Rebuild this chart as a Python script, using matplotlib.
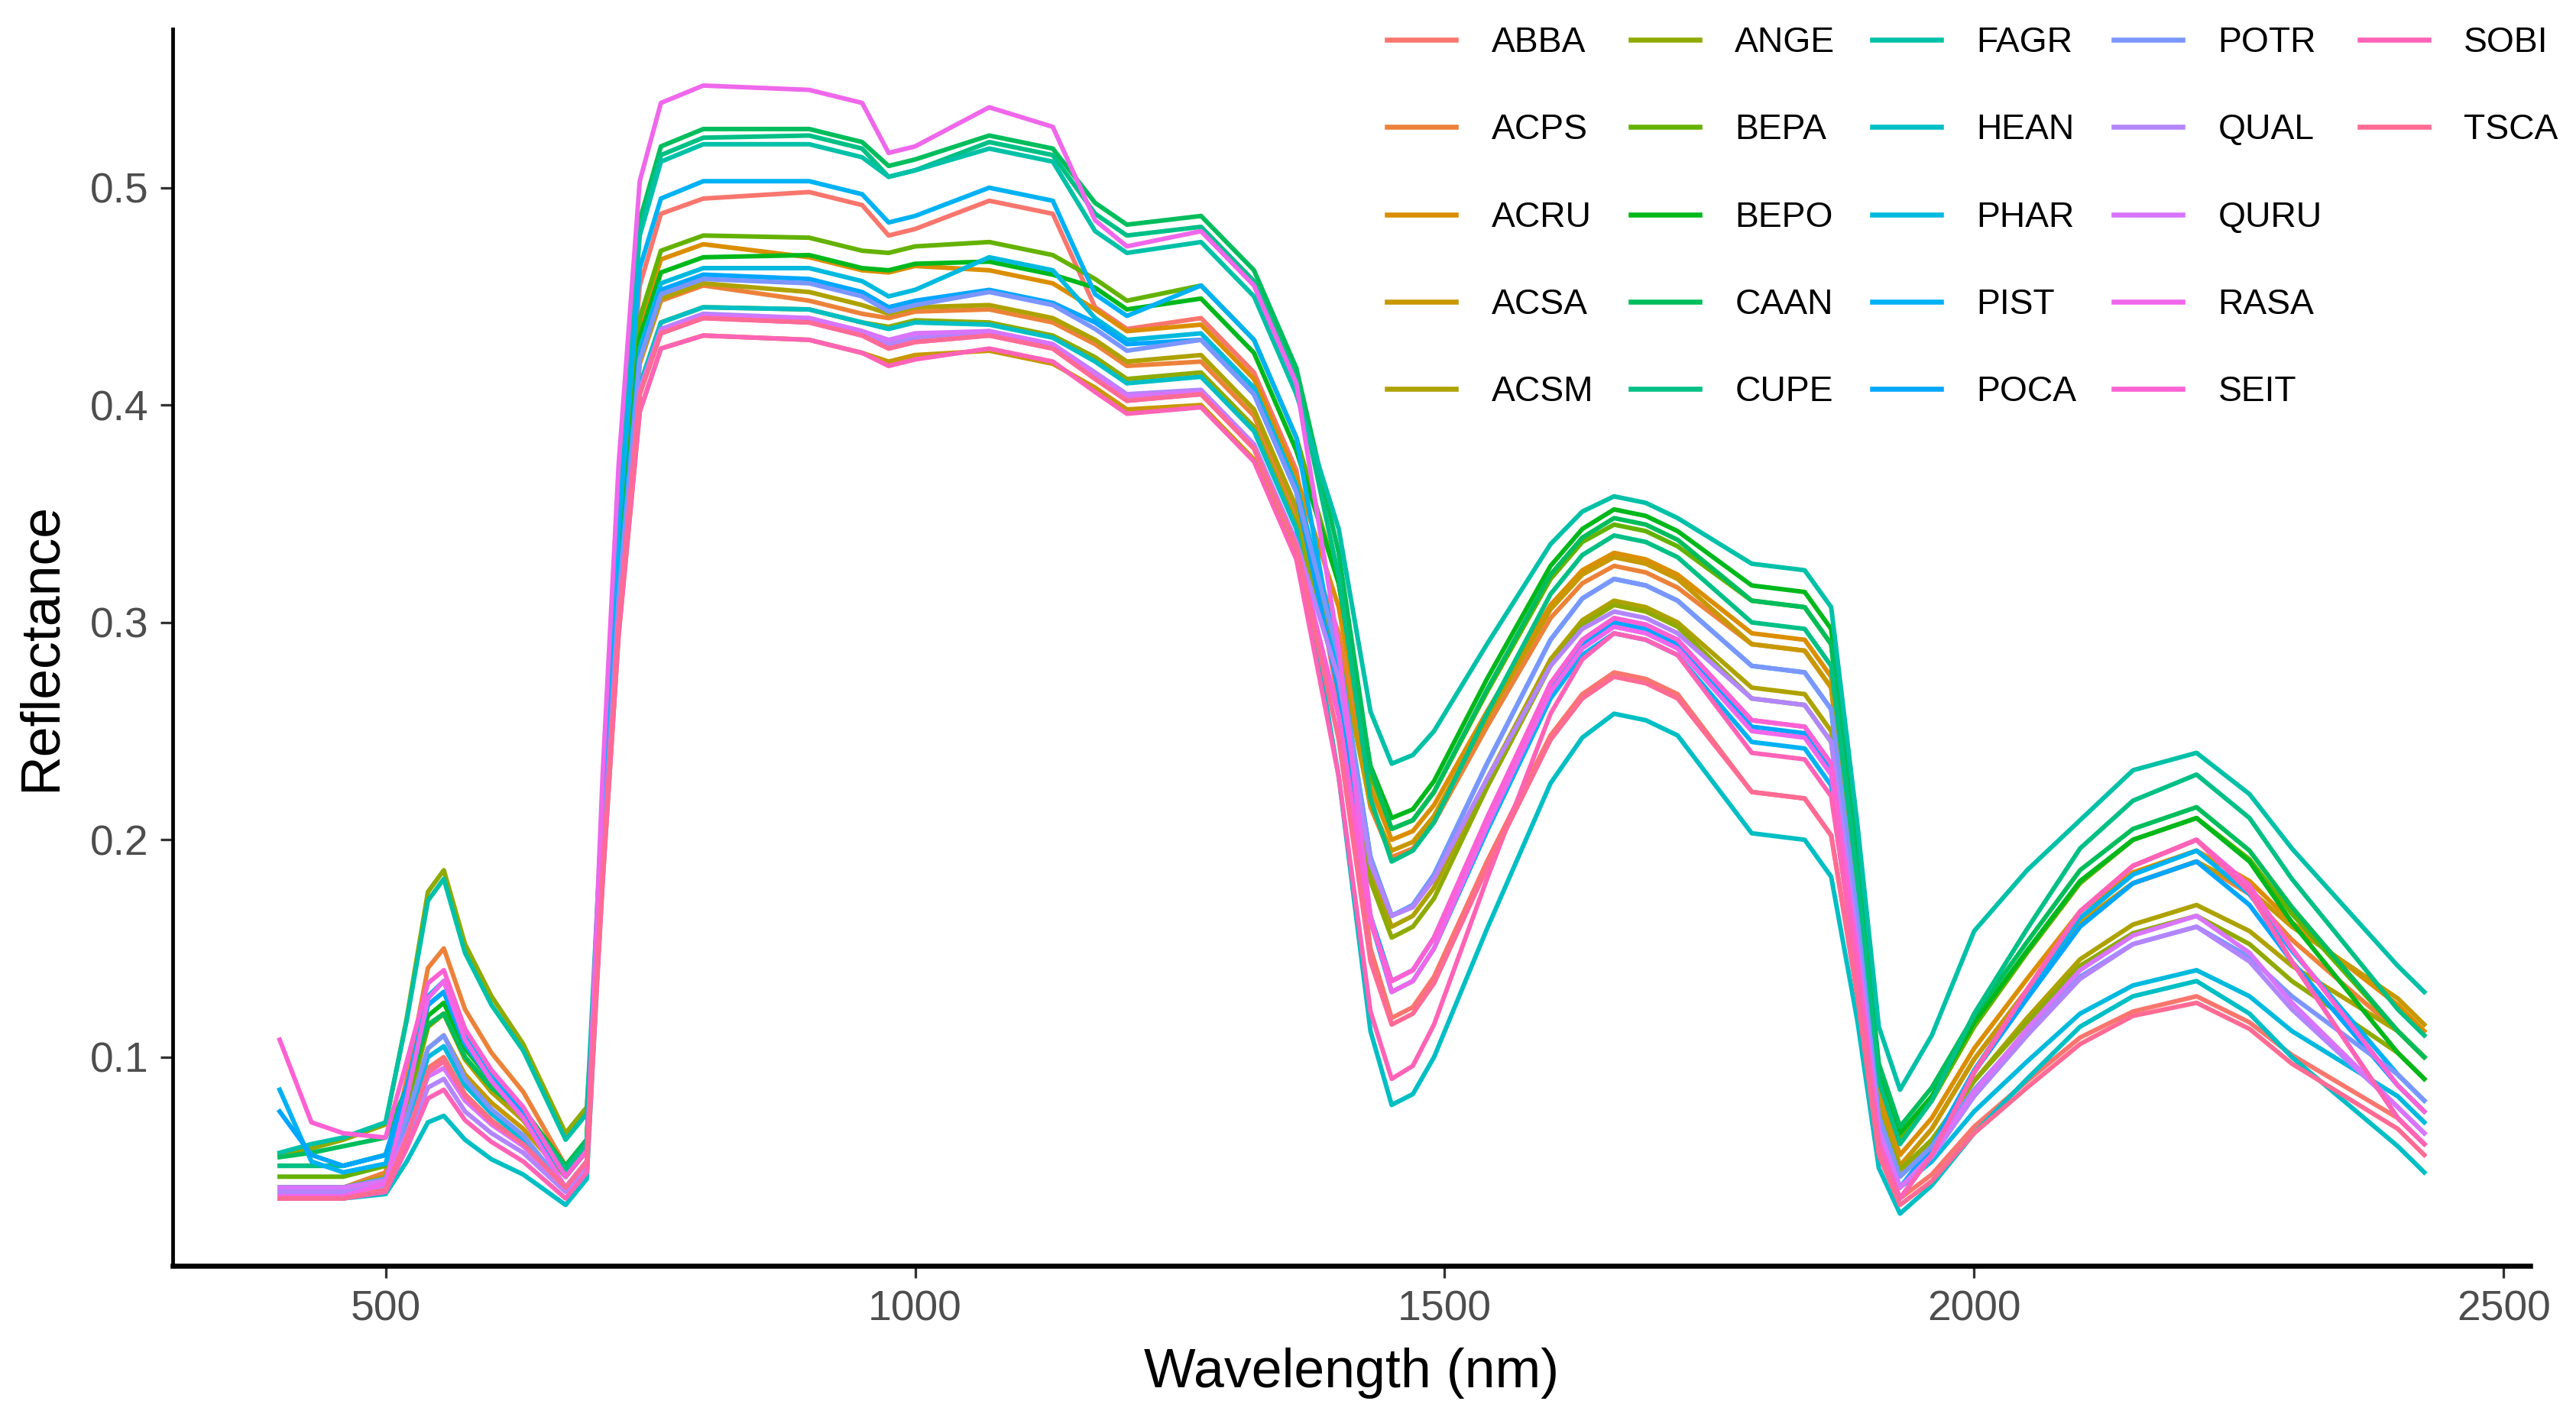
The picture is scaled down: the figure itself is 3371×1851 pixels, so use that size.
import numpy as np
import matplotlib
matplotlib.use("Agg")
import matplotlib.pyplot as plt
from matplotlib.lines import Line2D

plt.rcParams["font.family"] = ["Liberation Sans", "DejaVu Sans"]

wavelength = [400, 430, 460, 500, 520, 540, 555, 575, 600, 630,
              670, 690, 705, 720, 740, 760, 800, 900, 950, 975,
              1000, 1070, 1130, 1170, 1200, 1270, 1320, 1360, 1400, 1430,
              1450, 1470, 1490, 1540, 1600, 1630, 1660, 1690, 1720, 1790,
              1840, 1865, 1890, 1910, 1930, 1960, 2000, 2050, 2100, 2150,
              2210, 2260, 2300, 2400, 2425]

species = ["ABBA", "ACPS", "ACRU", "ACSA", "ACSM", "ANGE", "BEPA", "BEPO",
           "CAAN", "CUPE", "FAGR", "HEAN", "PHAR", "PIST", "POCA", "POTR",
           "QUAL", "QURU", "RASA", "SEIT", "SOBI", "TSCA"]

abba = [.037, .037, .037, .041, .065, .095, .100, .083, .071, .060,
        .040, .052, .208, .337, .455, .488, .495, .498, .492, .478,
        .481, .494, .488, .445, .435, .440, .415, .370, .263, .150,
        .118, .123, .137, .190, .248, .267, .277, .274, .267, .222,
        .219, .202, .129, .057, .035, .046, .068, .089, .109, .121,
        .128, .116, .101, .072, .060]
acps = [.040, .040, .040, .047, .090, .141, .150, .122, .102, .084,
        .050, .062, .191, .309, .419, .448, .455, .448, .442, .440,
        .443, .444, .438, .428, .418, .420, .395, .350, .295, .215,
        .192, .196, .208, .252, .302, .318, .326, .323, .316, .290,
        .287, .270, .170, .079, .050, .067, .099, .131, .162, .180,
        .190, .175, .154, .112, .100]
acru = [.040, .040, .040, .045, .076, .114, .120, .099, .084, .071,
        .045, .057, .199, .322, .436, .467, .474, .468, .462, .461,
        .464, .462, .456, .444, .434, .437, .412, .367, .307, .224,
        .200, .204, .216, .259, .308, .324, .332, .329, .322, .295,
        .292, .275, .175, .084, .055, .072, .104, .136, .167, .185,
        .195, .181, .162, .124, .112]
acsa = [.038, .038, .038, .042, .070, .104, .110, .092, .079, .067,
        .045, .057, .181, .294, .397, .426, .432, .430, .424, .420,
        .423, .425, .419, .408, .398, .400, .375, .330, .287, .216,
        .195, .199, .211, .256, .306, .322, .330, .327, .320, .290,
        .287, .270, .170, .079, .050, .067, .099, .131, .162, .180,
        .190, .177, .160, .127, .115]
acsm = [.040, .040, .040, .045, .076, .114, .120, .099, .084, .071,
        .045, .057, .192, .310, .420, .449, .456, .452, .446, .442,
        .445, .446, .440, .430, .420, .423, .398, .353, .278, .186,
        .160, .165, .178, .228, .283, .301, .310, .307, .300, .270,
        .267, .250, .158, .072, .045, .060, .089, .118, .145, .161,
        .170, .158, .142, .112, .100]
ange = [.055, .058, .062, .069, .118, .176, .186, .152, .128, .106,
        .065, .077, .187, .303, .409, .438, .445, .444, .438, .436,
        .439, .438, .432, .422, .412, .415, .390, .345, .272, .181,
        .155, .160, .173, .224, .280, .299, .308, .305, .298, .265,
        .262, .245, .157, .074, .048, .062, .089, .116, .142, .157,
        .165, .152, .135, .102, .090]
bepa = [.045, .045, .045, .050, .079, .114, .120, .100, .086, .074,
        .050, .062, .201, .325, .440, .471, .478, .477, .471, .470,
        .473, .475, .469, .458, .448, .455, .430, .385, .318, .230,
        .205, .209, .222, .268, .320, .337, .345, .342, .335, .310,
        .307, .290, .186, .092, .062, .080, .114, .148, .180, .200,
        .210, .191, .166, .112, .100]
bepo = [.050, .050, .050, .055, .084, .119, .125, .104, .089, .076,
        .050, .062, .197, .318, .431, .461, .468, .469, .463, .462,
        .465, .466, .460, .454, .444, .449, .424, .379, .318, .234,
        .210, .214, .227, .274, .326, .343, .352, .349, .342, .317,
        .314, .297, .191, .095, .065, .082, .116, .149, .181, .200,
        .210, .190, .162, .102, .090]
caan = [.054, .056, .059, .063, .086, .115, .120, .100, .086, .074,
        .050, .062, .221, .358, .485, .519, .527, .527, .521, .510,
        .513, .524, .518, .493, .483, .487, .462, .417, .332, .233,
        .205, .209, .222, .269, .322, .339, .348, .345, .338, .310,
        .307, .290, .189, .097, .068, .086, .119, .153, .186, .205,
        .215, .195, .169, .112, .100]
cupe = [.050, .050, .050, .055, .086, .124, .130, .107, .091, .076,
        .048, .060, .220, .356, .481, .515, .523, .524, .518, .505,
        .508, .521, .515, .488, .478, .482, .457, .412, .321, .219,
        .190, .195, .208, .258, .313, .331, .340, .337, .330, .300,
        .297, .280, .180, .089, .060, .080, .120, .159, .196, .218,
        .230, .210, .182, .122, .110]
fagr = [.056, .060, .063, .070, .117, .172, .182, .148, .124, .103,
        .062, .074, .218, .354, .478, .512, .520, .520, .514, .505,
        .508, .518, .512, .480, .470, .475, .450, .405, .343, .259,
        .235, .239, .250, .290, .336, .351, .358, .355, .348, .327,
        .324, .307, .206, .114, .085, .110, .158, .186, .209, .232,
        .240, .221, .196, .142, .130]
hean = [.035, .035, .035, .037, .052, .070, .073, .062, .053, .046,
        .032, .044, .187, .303, .409, .438, .445, .444, .438, .435,
        .438, .437, .431, .420, .410, .413, .388, .343, .229, .112,
        .078, .083, .100, .159, .226, .247, .258, .255, .248, .203,
        .200, .183, .116, .049, .028, .041, .065, .090, .114, .128,
        .135, .120, .100, .059, .047]
phar = [.040, .040, .040, .044, .069, .100, .105, .087, .074, .062,
        .040, .052, .194, .315, .426, .456, .463, .463, .457, .450,
        .453, .468, .462, .440, .430, .433, .408, .363, .286, .192,
        .165, .170, .184, .235, .292, .311, .320, .317, .310, .280,
        .277, .260, .160, .069, .040, .052, .075, .098, .120, .133,
        .140, .128, .112, .082, .070]
pist = [.085, .052, .047, .051, .086, .128, .135, .110, .092, .076,
        .045, .057, .211, .342, .463, .495, .503, .503, .497, .484,
        .487, .500, .494, .451, .441, .455, .430, .385, .276, .163,
        .130, .135, .150, .204, .265, .285, .295, .292, .285, .245,
        .242, .225, .143, .065, .040, .059, .094, .130, .164, .184,
        .195, .175, .149, .092, .080]
poca = [.075, .055, .050, .055, .086, .124, .130, .106, .089, .074,
        .045, .057, .193, .313, .423, .453, .460, .458, .452, .445,
        .448, .453, .447, .438, .428, .430, .405, .360, .268, .165,
        .135, .140, .155, .209, .270, .290, .300, .297, .290, .252,
        .249, .232, .146, .065, .040, .058, .093, .127, .160, .180,
        .190, .170, .144, .087, .075]
potr = [.040, .040, .040, .044, .072, .104, .110, .090, .076, .064,
        .040, .052, .192, .311, .421, .451, .458, .456, .450, .443,
        .446, .452, .446, .435, .425, .430, .405, .360, .284, .192,
        .165, .170, .184, .235, .292, .311, .320, .317, .310, .280,
        .277, .260, .163, .073, .045, .059, .085, .112, .137, .152,
        .160, .146, .128, .092, .080]
qual = [.038, .038, .038, .041, .061, .086, .090, .075, .065, .056,
        .038, .050, .186, .301, .407, .435, .442, .440, .434, .428,
        .431, .434, .428, .415, .405, .407, .382, .337, .274, .189,
        .165, .169, .182, .228, .280, .297, .305, .302, .295, .265,
        .262, .245, .153, .067, .040, .054, .082, .110, .136, .152,
        .160, .144, .122, .077, .065]
quru = [.040, .040, .040, .043, .065, .091, .095, .080, .069, .059,
        .040, .052, .185, .300, .406, .434, .441, .440, .434, .430,
        .433, .434, .428, .414, .404, .406, .381, .336, .257, .162,
        .135, .140, .155, .210, .272, .292, .302, .299, .292, .255,
        .252, .235, .148, .066, .040, .055, .084, .113, .140, .156,
        .165, .148, .125, .077, .065]
rasa = [.036, .036, .036, .042, .081, .127, .135, .108, .089, .072,
        .040, .052, .230, .372, .503, .539, .547, .545, .539, .516,
        .519, .537, .528, .485, .473, .480, .455, .410, .288, .165,
        .130, .135, .150, .206, .268, .288, .298, .295, .288, .250,
        .247, .230, .143, .061, .035, .055, .093, .131, .167, .188,
        .200, .176, .144, .072, .060]
seit = [.108, .070, .065, .063, .098, .134, .140, .113, .094, .077,
        .045, .057, .185, .299, .405, .433, .440, .438, .432, .426,
        .429, .432, .426, .412, .402, .405, .380, .335, .257, .162,
        .135, .140, .155, .210, .272, .292, .302, .299, .292, .255,
        .252, .235, .145, .061, .035, .055, .093, .131, .167, .188,
        .200, .179, .150, .087, .075]
sobi = [.035, .035, .035, .038, .058, .081, .085, .071, .061, .052,
        .035, .047, .181, .294, .397, .426, .432, .430, .424, .418,
        .421, .426, .420, .406, .396, .399, .374, .329, .229, .121,
        .090, .096, .115, .182, .258, .283, .295, .292, .285, .240,
        .237, .220, .138, .060, .035, .055, .093, .131, .167, .188,
        .200, .176, .144, .072, .060]
tsca = [.035, .035, .035, .039, .063, .093, .098, .082, .070, .060,
        .040, .052, .185, .299, .405, .433, .440, .438, .432, .426,
        .429, .432, .426, .412, .402, .405, .380, .335, .246, .144,
        .115, .120, .134, .187, .246, .265, .275, .272, .265, .222,
        .219, .202, .127, .055, .032, .043, .065, .086, .106, .119,
        .125, .113, .097, .067, .055]

spectra = [abba, acps, acru, acsa, acsm, ange, bepa, bepo, caan, cupe, fagr,
           hean, phar, pist, poca, potr, qual, quru, rasa, seit, sobi, tsca]


def hue_pal(n, c=100.0, l=65.0):
    # ggplot2 default discrete palette: polar LUV -> sRGB
    xn, yn, zn = 95.047, 100.0, 108.883
    den = xn + 15 * yn + 3 * zn
    un, vn = 4 * xn / den, 9 * yn / den
    y = yn * ((l + 16) / 116) ** 3
    out = []
    for h in np.linspace(15, 375, n + 1)[:n]:
        u = c * np.cos(np.radians(h))
        v = c * np.sin(np.radians(h))
        up = u / (13 * l) + un
        vp = v / (13 * l) + vn
        x = 9 * y * up / (4 * vp)
        z = y * (12 - 3 * up - 20 * vp) / (4 * vp)
        xyz = np.array([x, y, z]) / 100
        m = np.array([[3.240479, -1.537150, -0.498535],
                      [-0.969256, 1.875992, 0.041556],
                      [0.055648, -0.204043, 1.057311]])
        rgb = m @ xyz
        rgb = np.where(rgb <= 0.0031308, 12.92 * rgb,
                       1.055 * np.abs(rgb) ** (1 / 2.4) - 0.055)
        out.append(tuple(np.clip(rgb, 0, 1)))
    return out


colors = hue_pal(len(species))

W, H, DPI = 3371, 1851, 215
fig = plt.figure(figsize=(W / DPI, H / DPI), dpi=DPI)
ax = fig.add_axes([226 / W, 1 - 1657 / H, (3311 - 226) / W, (1657 - 38) / H])

for name, refl, col in zip(species, spectra, colors):
    ax.plot(wavelength, refl, color=col, lw=2.0, label=name,
            solid_joinstyle="round")

ax.set_xlim(299, 2525)
ax.set_ylim(0.004, 0.573)
ax.set_xticks([500, 1000, 1500, 2000, 2500])
ax.set_yticks([0.1, 0.2, 0.3, 0.4, 0.5])
ax.set_yticklabels(["0.1", "0.2", "0.3", "0.4", "0.5"])

for side in ["top", "right"]:
    ax.spines[side].set_visible(False)
ax.spines["left"].set_linewidth(1.6)
ax.spines["bottom"].set_linewidth(2.2)
ax.tick_params(axis="both", length=5.5, width=1.1, color="#333333",
               labelcolor="#4D4D4D", labelsize=18.5, pad=5)

ax.set_xlabel("Wavelength (nm)", fontsize=24, labelpad=8)
ax.set_ylabel("Reflectance", fontsize=24, labelpad=10)

# ggplot fills legend columns top-to-bottom, 5 rows
handles = [Line2D([], [], color=c, lw=2.2) for c in colors]
labels = list(species)
for _ in range(25 - len(handles)):
    handles.append(Line2D([], [], alpha=0))
    labels.append("")
ax.legend(handles, labels, ncol=5, loc="upper left",
          bbox_to_anchor=(1815 / W, 1 - 34 / H), bbox_transform=fig.transFigure,
          frameon=False, fontsize=15.5, borderpad=0, borderaxespad=0,
          handlelength=1.95, handletextpad=1.0, columnspacing=1.05,
          labelspacing=1.52)

fig.savefig("out.png", dpi=DPI)
